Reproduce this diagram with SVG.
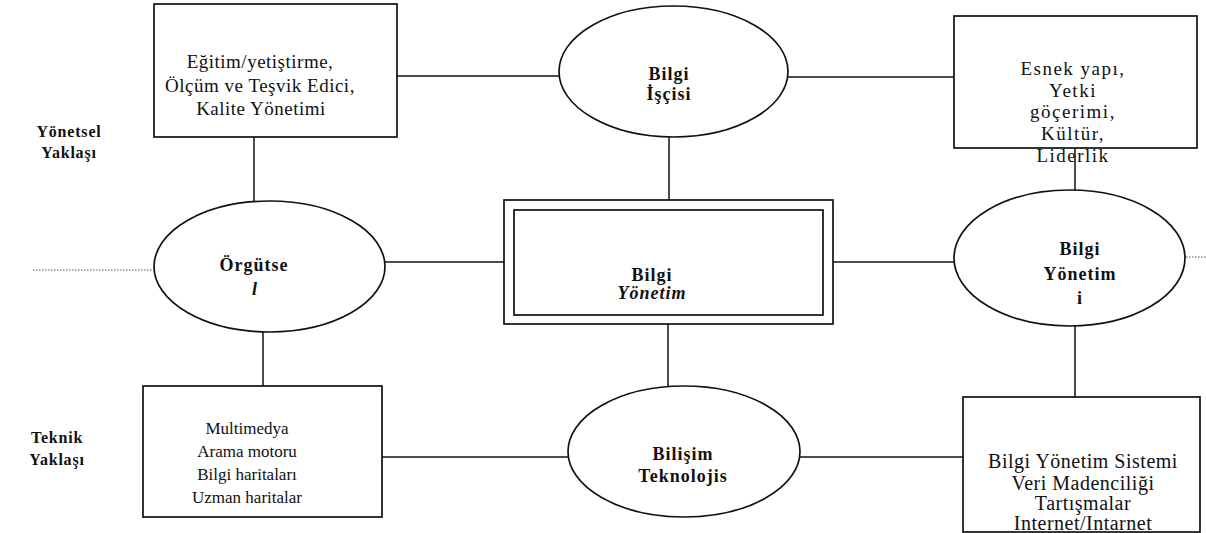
<svg xmlns="http://www.w3.org/2000/svg" width="1206" height="533" viewBox="0 0 1206 533">
  <style>
    .shape { fill: #ffffff; stroke: #111111; stroke-width: 1.7; }
    .line { stroke: #111111; stroke-width: 1.5; fill: none; }
    .dotted { stroke: #555555; stroke-width: 1.2; stroke-dasharray: 1.5 1.5; fill: none; }
    .txt { font-family: "Liberation Serif", "Times New Roman", serif; fill: #111111; text-anchor: middle; }
    .bold { font-weight: bold; font-size: 18px; letter-spacing: 1px; }
    .side { font-weight: bold; font-size: 16px; letter-spacing: 0.8px; }
    .tl { font-size: 19px; letter-spacing: 0.5px; }
    .tr { font-size: 19px; letter-spacing: 1.5px; }
    .bl { font-size: 17px; }
    .br { font-size: 20px; letter-spacing: 0.5px; }
  </style>
  <rect width="1206" height="533" fill="#ffffff"/>

  <!-- connectors -->
  <g id="connectors">
    <line class="line" x1="397" y1="76" x2="559" y2="76"/>
    <line class="line" x1="788" y1="77" x2="954" y2="77"/>
    <line class="line" x1="254" y1="137" x2="254" y2="202"/>
    <line class="line" x1="669" y1="137" x2="669" y2="200"/>
    <line class="line" x1="1075" y1="148" x2="1075" y2="190"/>
    <line class="line" x1="385" y1="262" x2="504" y2="262"/>
    <line class="line" x1="833" y1="262" x2="954" y2="262"/>
    <line class="line" x1="263" y1="332" x2="263" y2="386"/>
    <line class="line" x1="668" y1="324" x2="668" y2="386"/>
    <line class="line" x1="1075" y1="326" x2="1075" y2="397"/>
    <line class="line" x1="382" y1="457" x2="568" y2="457"/>
    <line class="line" x1="800" y1="457" x2="963" y2="457"/>
    <line class="dotted" x1="33" y1="270" x2="154" y2="270"/>
    <line class="dotted" x1="1186" y1="257" x2="1206" y2="257"/>
  </g>

  <!-- row labels -->
  <g id="label-yonetsel">
    <text class="txt side" x="69" y="137">Yönetsel</text>
    <text class="txt side" x="69" y="158">Yaklaşı</text>
  </g>
  <g id="label-teknik">
    <text class="txt side" x="57" y="443">Teknik</text>
    <text class="txt side" x="57" y="465">Yaklaşı</text>
  </g>

  <!-- top row -->
  <g id="node-egitim">
    <rect class="shape" x="154" y="4" width="243" height="133"/>
    <text class="txt tl" x="260" y="68">Eğitim/yetiştirme,</text>
    <text class="txt tl" x="260" y="92">Ölçüm ve Teşvik Edici,</text>
    <text class="txt tl" x="261" y="115">Kalite Yönetimi</text>
  </g>
  <g id="node-bilgi-iscisi">
    <ellipse class="shape" cx="673.5" cy="71.5" rx="114.5" ry="65.5"/>
    <text class="txt bold" x="669" y="80">Bilgi</text>
    <text class="txt bold" x="669" y="100">İşçisi</text>
  </g>
  <g id="node-esnek">
    <rect class="shape" x="954" y="16" width="243" height="132"/>
    <text class="txt tr" x="1073" y="75">Esnek yapı,</text>
    <text class="txt tr" x="1073" y="97">Yetki</text>
    <text class="txt tr" x="1073" y="118">göçerimi,</text>
    <text class="txt tr" x="1073" y="140">Kültür,</text>
    <text class="txt tr" x="1073" y="162">Liderlik</text>
  </g>

  <!-- middle row -->
  <g id="node-orgutsel">
    <ellipse class="shape" cx="269.5" cy="266.5" rx="115.5" ry="65.5"/>
    <text class="txt bold" x="254" y="271">Örgütse</text>
    <text class="txt bold" style="font-style:italic" x="255" y="295">l</text>
  </g>
  <g id="node-bilgi-yonetim">
    <rect class="shape" x="504" y="200" width="329" height="124"/>
    <rect class="shape" x="514" y="210" width="309" height="105"/>
    <text class="txt bold" x="652" y="281">Bilgi</text>
    <text class="txt bold" style="font-style:italic" x="652" y="299">Yönetim</text>
  </g>
  <g id="node-bilgi-yonetimi">
    <ellipse class="shape" cx="1069.5" cy="258" rx="115.5" ry="68"/>
    <text class="txt bold" x="1080" y="255">Bilgi</text>
    <text class="txt bold" x="1080" y="280">Yönetim</text>
    <text class="txt bold" x="1080" y="304">i</text>
  </g>

  <!-- bottom row -->
  <g id="node-multimedya">
    <rect class="shape" x="143" y="386" width="239" height="131"/>
    <text class="txt bl" x="247" y="434">Multimedya</text>
    <text class="txt bl" x="247" y="457">Arama motoru</text>
    <text class="txt bl" x="247" y="480">Bilgi haritaları</text>
    <text class="txt bl" x="247" y="503">Uzman haritalar</text>
  </g>
  <g id="node-bilisim">
    <ellipse class="shape" cx="684" cy="451.5" rx="116" ry="65.5"/>
    <text class="txt bold" x="683" y="460">Bilişim</text>
    <text class="txt bold" x="683" y="482">Teknolojis</text>
  </g>
  <g id="node-bys">
    <rect class="shape" x="963" y="397" width="237" height="135"/>
    <text class="txt br" x="1083" y="468">Bilgi Yönetim Sistemi</text>
    <text class="txt br" x="1083" y="490">Veri Madenciliği</text>
    <text class="txt br" x="1083" y="510">Tartışmalar</text>
    <text class="txt br" x="1083" y="530">Internet/Intarnet</text>
  </g>
</svg>
